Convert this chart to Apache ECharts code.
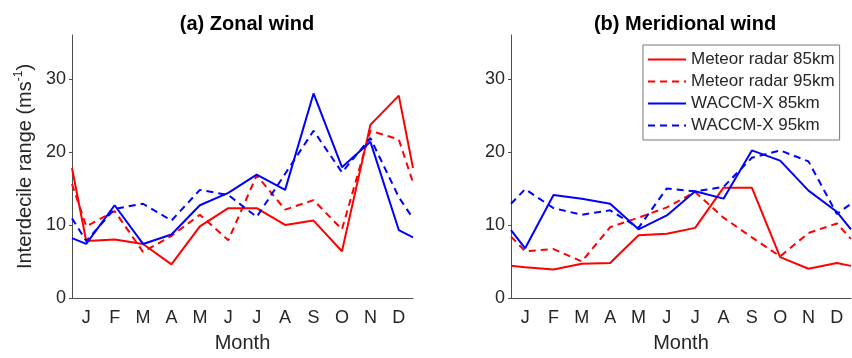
<!DOCTYPE html>
<html>
<head>
<meta charset="utf-8">
<title>Interdecile range</title>
<script src="https://cdn.jsdelivr.net/npm/echarts@6/dist/echarts.min.js"></script>
<style>
  html, body { margin: 0; padding: 0; background: #fff; }
  #chart { width: 852px; height: 358px; }
</style>
</head>
<body>
<div id="chart"></div>
<script>
"use strict";
// 月份 标签
const months = ['J', 'F', 'M', 'A', 'M', 'J', 'J', 'A', 'S', 'O', 'N', 'D'];
// 数据点 横坐标（月中 + 两端）
const xPos = [0, 0.5, 1.5, 2.5, 3.5, 4.5, 5.5, 6.5, 7.5, 8.5, 9.5, 10.5, 11.5, 12];
const yTicks = [0, 10, 20, 30];

const seriesNames = ['Meteor radar 85km', 'Meteor radar 95km', 'WACCM-X 85km', 'WACCM-X 95km'];

// (a) 纬向风
const zonalRadar85 = [17.8, 7.8, 8.0, 7.4, 4.6, 9.8, 12.3, 12.3, 10.0, 10.6, 6.4, 23.7, 27.7, 17.8];
const zonalRadar95 = [15.6, 9.8, 11.9, 6.3, 8.5, 11.4, 7.9, 16.8, 12.1, 13.4, 9.4, 22.9, 21.7, 15.8];
const zonalWaccm85 = [8.2, 7.4, 12.7, 7.4, 8.7, 12.7, 14.4, 16.9, 14.8, 28.0, 17.9, 21.4, 9.3, 8.3];
const zonalWaccm95 = [10.9, 7.8, 12.2, 12.9, 10.6, 14.8, 14.1, 11.1, 17.0, 22.9, 17.2, 21.9, 13.8, 10.9];

// (b) 经向风
const meridRadar85 = [4.4, 4.2, 3.9, 4.7, 4.8, 8.6, 8.8, 9.6, 15.1, 15.1, 5.6, 4.0, 4.8, 4.4];
const meridRadar95 = [8.4, 6.4, 6.7, 5.0, 9.7, 11.0, 12.4, 14.5, 11.0, 8.3, 5.7, 8.9, 10.2, 8.1];
const meridWaccm85 = [9.3, 6.8, 14.1, 13.6, 12.9, 9.4, 11.3, 14.6, 13.6, 20.2, 18.8, 14.7, 11.8, 9.4];
const meridWaccm95 = [12.9, 14.9, 12.3, 11.4, 12.0, 9.6, 15.0, 14.6, 15.2, 19.2, 20.2, 18.7, 11.5, 12.9];

const FONT = '"Liberation Sans", Arial, Helvetica, sans-serif';
const TEXT = '#262626';
const AXIS = '#4d4d4d';
const RED = '#ff0000';
const BLUE = '#0000ff';

const chart = echarts.init(document.getElementById('chart'), null, { renderer: 'canvas' });

function pairs(values) {
  return values.map((v, i) => [xPos[i], v]);
}

function makeLine(name, values, color, dashed, idx) {
  return {
    name: name,
    type: 'line',
    xAxisIndex: idx * 2 + 1,
    yAxisIndex: idx,
    data: pairs(values),
    symbol: 'none',
    showSymbol: false,
    animation: false,
    lineStyle: { color: color, width: 2, type: dashed ? [7, 5] : 'solid' },
    itemStyle: { color: color },
  };
}

// 显示用的类别轴 + 隐藏的数值轴
function monthAxes(gridIndex) {
  return [
    {
      type: 'category',
      gridIndex: gridIndex,
      data: months,
      boundaryGap: true,
      axisLine: { lineStyle: { color: AXIS, width: 1 } },
      axisTick: { inside: true, length: 4, lineStyle: { color: AXIS } },
      axisLabel: { color: TEXT, fontSize: 18, fontFamily: FONT, margin: 11 },
      name: 'Month',
      nameLocation: 'middle',
      nameGap: 35,
      nameTextStyle: { color: TEXT, fontSize: 20, fontFamily: FONT },
    },
    {
      type: 'value',
      gridIndex: gridIndex,
      min: 0,
      max: 12,
      show: false,
    },
  ];
}

function rangeAxis(gridIndex, withName) {
  const ax = {
    type: 'value',
    gridIndex: gridIndex,
    min: 0,
    max: 36,
    interval: 10,
    splitLine: { show: false },
    axisLine: { show: true, lineStyle: { color: AXIS, width: 1 } },
    axisTick: { show: true, inside: false, length: 3, customValues: yTicks, lineStyle: { color: AXIS } },
    axisLabel: { color: TEXT, fontSize: 18, fontFamily: FONT, margin: 6, customValues: yTicks },
  };
  if (withName) {
    ax.name = 'Interdecile range (ms{sup|-1})';
    ax.nameLocation = 'middle';
    ax.nameGap = 35;
    ax.nameTextStyle = {
      color: TEXT, fontSize: 20, fontFamily: FONT, lineHeight: 24,
      rich: {
        sup: { fontSize: 12, fontFamily: FONT, color: TEXT, lineHeight: 12, verticalAlign: 'top' },
      },
    };
  }
  return ax;
}

const option = {
  backgroundColor: '#ffffff',
  animation: false,
  title: [
    {
      text: '(a) Zonal wind', left: 242, top: 9, textAlign: 'center',
      textStyle: { fontSize: 20, fontWeight: 'bold', color: '#000', fontFamily: FONT },
    },
    {
      text: '(b) Meridional wind', left: 680, top: 9, textAlign: 'center',
      textStyle: { fontSize: 20, fontWeight: 'bold', color: '#000', fontFamily: FONT },
    },
  ],
  legend: {
    data: seriesNames,
    orient: 'vertical',
    left: 643,
    top: 45,
    itemWidth: 38,
    itemHeight: 14,
    itemGap: 5,
    padding: [6, 5, 6, 4],
    borderColor: '#777',
    borderWidth: 1,
    backgroundColor: '#fff',
    // 图例只画线，不画圆点
    itemStyle: { color: 'rgba(0,0,0,0)', borderWidth: 0, borderColor: 'rgba(0,0,0,0)' },
    textStyle: { color: TEXT, fontSize: 17, fontFamily: FONT },
  },
  grid: [
    { left: 72, right: 439, top: 35, bottom: 56, containLabel: false },
    { left: 511, right: 1, top: 35, bottom: 56, containLabel: false },
  ],
  xAxis: monthAxes(0).concat(monthAxes(1)),
  yAxis: [rangeAxis(0, true), rangeAxis(1, false)],
  series: [
    makeLine(seriesNames[0], zonalRadar85, RED, false, 0),
    makeLine(seriesNames[1], zonalRadar95, RED, true, 0),
    makeLine(seriesNames[2], zonalWaccm85, BLUE, false, 0),
    makeLine(seriesNames[3], zonalWaccm95, BLUE, true, 0),
    makeLine(seriesNames[0], meridRadar85, RED, false, 1),
    makeLine(seriesNames[1], meridRadar95, RED, true, 1),
    makeLine(seriesNames[2], meridWaccm85, BLUE, false, 1),
    makeLine(seriesNames[3], meridWaccm95, BLUE, true, 1),
  ],
};

chart.setOption(option);
</script>
</body>
</html>
